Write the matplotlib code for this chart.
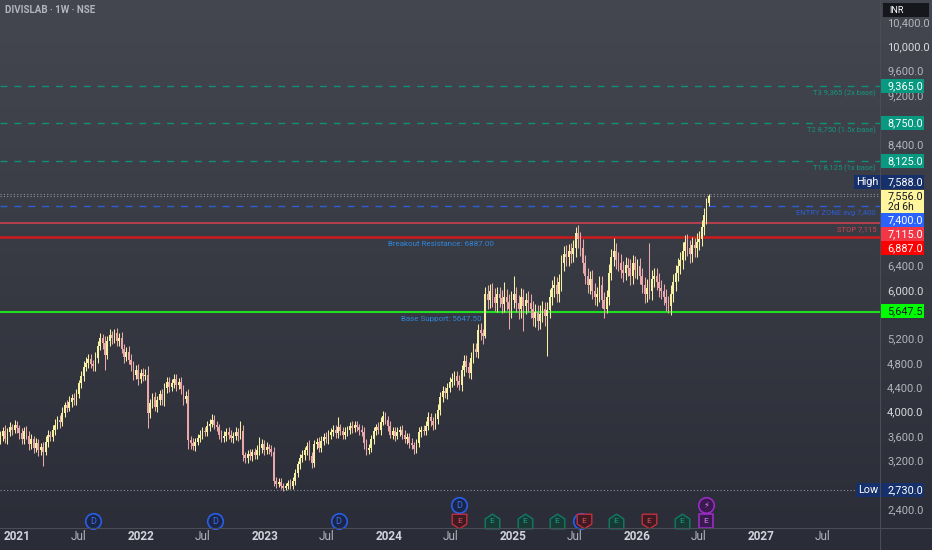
import numpy as np
import pandas as pd
import matplotlib
matplotlib.use("Agg")
import matplotlib.pyplot as plt
import matplotlib.dates as mdates
import matplotlib.transforms as mtransforms
from matplotlib.colors import LinearSegmentedColormap
from matplotlib.patches import Rectangle
from matplotlib.lines import Line2D

plt.rcParams['font.family'] = ['Roboto', 'DejaVu Sans']

# ---- weekly candles (DIVISLAB 1W) ----
first_open = 3550
closes = [
    3620, 3700, 3560, 3680, 3760, 3720, 3800, 3740, 3660, 3560,
    3700, 3620, 3480, 3560, 3420, 3500, 3380, 3440, 3360, 3520,
    3640, 3600, 3720, 3800, 3880, 3840, 4000, 4120, 4080, 4180,
    4240, 4200, 4300, 4480, 4600, 4750, 4820, 4880, 4800, 4760,
    4900, 5100, 5220, 5150, 4950, 5180, 5280, 5220, 5300, 5180,
    5220, 5050, 4920, 5000, 4860, 4780, 4620, 4700, 4550, 4650,
    4600, 4620, 4000, 4150, 4250, 4100, 4200, 4300, 4200, 4400,
    4500, 4420, 4480, 4550, 4450, 4500, 4380, 4220, 4280, 3550,
    3500, 3450, 3520, 3580, 3640, 3700, 3680, 3780, 3820, 3880,
    3800, 3760, 3640, 3580, 3620, 3680, 3640, 3580, 3620, 3680,
    3620, 3700, 3300, 3250, 3320, 3280, 3350, 3300, 3380, 3420,
    3480, 3380, 3430, 3400, 3350, 2880, 2820, 2860, 2800, 2760,
    2790, 2840, 2800, 2880, 3000, 3150, 3250, 3300, 3380, 3450,
    3280, 3180, 3480, 3520, 3420, 3540, 3600, 3560, 3640, 3680,
    3720, 3660, 3760, 3700, 3640, 3680, 3720, 3780, 3740, 3800,
    3760, 3720, 3680, 3500, 3380, 3420, 3560, 3700, 3760, 3720,
    3850, 3950, 3880, 3780, 3640, 3700, 3620, 3680, 3720, 3640,
    3560, 3600, 3500, 3460, 3400, 3500, 3680, 3720, 3700, 3780,
    3920, 3860, 3800, 3900, 4050, 4250, 4350, 4320, 4400, 4500,
    4550, 4600, 4520, 4450, 4700, 4850, 4750, 4650, 4900, 5050,
    5000, 5350, 5300, 5250, 5950, 5850, 6000, 5900, 5800, 5950,
    5880, 5780, 5900, 5820, 5700, 5850, 5950, 5800, 5700, 5900,
    5750, 5850, 5800, 5700, 5550, 5650, 5500, 5620, 5700, 5580,
    5680, 5900, 6050, 6100, 5950, 6150, 6450, 6600, 6550, 6650,
    6600, 6700, 6950, 6850, 6700, 6450, 6250, 6100, 6200, 6000,
    5900, 5950, 6100, 5850, 5700, 5900, 6300, 6550, 6650, 6500,
    6450, 6350, 6300, 6420, 6380, 6250, 6450, 6350, 6400, 6250,
    6100, 5950, 6050, 6000, 6200, 6250, 6150, 6050, 6000, 5900,
    5800, 5750, 5950, 6150, 6300, 6400, 6500, 6650, 6800, 6700,
    6600, 6750, 6700, 6800, 6850, 7050, 7250, 7450, 7556,
]
# wick length above / below the body
wick_up = [
    80, 60, 100, 70, 90, 60, 80, 70, 60, 90,
    60, 80, 70, 90, 60, 80, 70, 60, 80, 90,
    70, 60, 80, 90, 70, 80, 90, 60, 80, 90,
    70, 80, 90, 60, 80, 90, 100, 80, 90, 70,
    100, 80, 90, 70, 110, 80, 90, 60, 70, 90,
    80, 100, 70, 80, 90, 100, 70, 80, 90, 70,
    80, 90, 150, 80, 70, 90, 80, 70, 90, 80,
    90, 80, 70, 90, 80, 70, 90, 80, 70, 100,
    70, 80, 60, 70, 80, 60, 70, 80, 70, 90,
    80, 70, 60, 80, 70, 60, 80, 70, 60, 80,
    70, 160, 90, 60, 70, 80, 60, 70, 80, 180,
    90, 70, 80, 60, 70, 80, 60, 70, 60, 50,
    60, 50, 70, 60, 80, 60, 70, 80, 60, 70,
    100, 80, 70, 60, 80, 70, 60, 80, 70, 60,
    70, 80, 160, 60, 70, 80, 60, 70, 80, 60,
    70, 60, 80, 90, 70, 60, 80, 70, 60, 80,
    70, 80, 60, 70, 80, 60, 70, 80, 60, 70,
    80, 60, 70, 80, 60, 70, 80, 60, 70, 80,
    90, 80, 70, 100, 90, 80, 90, 70, 80, 90,
    100, 80, 90, 100, 80, 90, 100, 80, 90, 100,
    90, 100, 120, 80, 120, 150, 120, 130, 140, 110,
    120, 140, 240, 130, 120, 140, 290, 120, 130, 150,
    130, 120, 140, 150, 130, 140, 120, 150, 130, 120,
    140, 130, 120, 150, 130, 120, 140, 130, 150, 120,
    130, 140, 100, 130, 120, 150, 140, 130, 120, 140,
    130, 120, 150, 140, 130, 120, 140, 130, 210, 140,
    130, 150, 140, 130, 120, 150, 140, 130, 120, 140,
    130, 120, 140, 730, 150, 130, 120, 140, 130, 120,
    130, 120, 140, 130, 120, 140, 130, 150, 120, 130,
    140, 130, 120, 150, 130, 120, 110, 80, 32,
]
wick_dn = [
    70, 90, 60, 80, 70, 90, 60, 80, 100, 70,
    80, 60, 90, 70, 80, 60, 90, 70, 240, 60,
    80, 70, 60, 80, 70, 90, 60, 80, 70, 60,
    90, 70, 80, 60, 70, 80, 60, 90, 70, 80,
    70, 90, 80, 100, 250, 70, 80, 90, 70, 80,
    90, 70, 100, 80, 70, 90, 80, 70, 100, 60,
    80, 70, 260, 90, 80, 70, 90, 80, 70, 90,
    80, 90, 70, 80, 90, 70, 80, 90, 70, 150,
    90, 70, 80, 60, 70, 80, 60, 70, 80, 60,
    70, 60, 80, 70, 60, 80, 70, 60, 80, 70,
    80, 60, 90, 80, 70, 60, 80, 70, 60, 70,
    80, 70, 60, 80, 70, 90, 60, 50, 60, 40,
    30, 50, 60, 50, 70, 60, 70, 60, 80, 70,
    60, 90, 70, 80, 60, 70, 80, 60, 70, 80,
    60, 70, 80, 60, 70, 80, 60, 70, 80, 60,
    70, 80, 60, 90, 80, 60, 70, 80, 60, 70,
    80, 60, 70, 80, 60, 70, 80, 60, 70, 80,
    60, 70, 80, 60, 80, 70, 60, 80, 70, 60,
    70, 80, 90, 70, 80, 90, 70, 80, 90, 70,
    80, 90, 100, 80, 90, 100, 80, 90, 100, 80,
    90, 100, 110, 120, 30, 150, 140, 160, 130, 150,
    140, 150, 130, 140, 330, 150, 130, 140, 160, 150,
    410, 130, 140, 150, 130, 140, 150, 130, 140, 150,
    650, 130, 140, 150, 130, 140, 150, 130, 140, 150,
    140, 130, 150, 140, 130, 150, 140, 130, 150, 140,
    130, 150, 140, 130, 150, 70, 140, 130, 150, 140,
    130, 140, 150, 130, 140, 150, 130, 140, 150, 130,
    140, 150, 130, 140, 150, 130, 140, 150, 130, 140,
    130, 120, 140, 130, 150, 140, 130, 140, 150, 130,
    140, 130, 150, 140, 130, 120, 140, 150, 60,
]

# ---- levels drawn on the chart ----
target_levels = [9365, 8750, 8125]
target_labels = ["T3 9,365 (2x base)", "T2 8,750 (1.5x base)", "T1 8,125 (1x base)"]
entry_level = 7400
stop_level = 7115
resistance_level = 6887
support_level = 5647.5
high_level = 7588
low_level = 2730
last_price = 7556
countdown = "2d 6h"

# ---- events under the candles ----
div_dates = ['2021-08-13', '2022-08-07', '2023-08-06', '2025-07-19']
div_upper_dates = ['2024-07-26']
earn_dates = ['2024-07-26', '2024-10-30', '2025-02-04', '2025-05-09', '2025-07-28',
              '2025-10-30', '2026-02-04', '2026-05-12']
earn_beat = [False, True, True, True, False, True, False, True]
next_earn_date = '2026-07-22'

# ---- colours ----
UP = '#f6f0a2'
DOWN = '#eaa8aa'
TEAL = '#118f79'
TXT = '#b2b5be'

ymin, ymax = 2104, 10778
W, H = 932, 550
AX_H = 528
ppx = (ymax - ymin) / AX_H   # price per pixel

fig = plt.figure(figsize=(W / 100, H / 100), dpi=100)

bg = fig.add_axes([0, 0, 1, 1], zorder=0)
cmap = LinearSegmentedColormap.from_list('bg', ['#44474f', '#2a2d37'])
bg.imshow(np.linspace(0, 1, 256).reshape(-1, 1), cmap=cmap, aspect='auto', extent=(0, 1, 0, 1))
bg.set_axis_off()

ax = fig.add_axes([0, (H - AX_H) / H, 880 / W, AX_H / H], zorder=1)
ax.patch.set_alpha(0)
for s in ax.spines.values():
    s.set_visible(False)
ax.set_xticks([])
ax.set_yticks([])
ax.set_ylim(ymin, ymax)
ax.set_xlim(mdates.date2num(pd.Timestamp('2020-11-12')), mdates.date2num(pd.Timestamp('2027-12-17')))

# candles
dates = pd.date_range('2020-11-13', periods=len(closes), freq='7D')
x = mdates.date2num(dates)
c = np.array(closes, dtype=float)
o = np.concatenate([[first_open], c[:-1]])
hi = np.maximum(o, c) + np.array(wick_up)
lo = np.minimum(o, c) - np.array(wick_dn)
cols = np.where(c >= o, UP, DOWN)
ax.vlines(x, lo, hi, colors=cols, lw=0.75, zorder=3)
ax.bar(x, np.maximum(np.abs(c - o), 10), bottom=np.minimum(o, c), width=5.2,
       color=cols, linewidth=0, zorder=3)

# horizontal levels
dash = (0, (5, 5))
for lvl, lab in zip(target_levels, target_labels):
    ax.axhline(lvl, color=TEAL, lw=1, ls=dash, zorder=2)
    ax.annotate(lab, xy=(0.9955, lvl), xycoords=('axes fraction', 'data'),
                xytext=(0, -5), textcoords='offset points', ha='right', va='center',
                fontsize=5.5, color='#15957f')
ax.axhline(entry_level, color='#2d5ed6', lw=1, ls=dash, zorder=2)
ax.annotate(f"ENTRY ZONE avg {entry_level:,}", xy=(0.9955, entry_level),
            xycoords=('axes fraction', 'data'), xytext=(0, -5), textcoords='offset points',
            ha='right', va='center', fontsize=5.5, color='#2d5ed6')
ax.axhline(stop_level, color='#c8414e', lw=1.2, zorder=2)
ax.annotate(f"STOP {stop_level:,}", xy=(0.9955, stop_level),
            xycoords=('axes fraction', 'data'), xytext=(0, -4.5), textcoords='offset points',
            ha='right', va='center', fontsize=5.5, color='#d2414f')
ax.axhline(resistance_level, color='#cf1b1b', lw=1.8, zorder=2)
ax.annotate(f"Breakout Resistance: {resistance_level:.2f}", xy=(440.5 / 880, resistance_level),
            xycoords=('axes fraction', 'data'), xytext=(0, -5.3), textcoords='offset points',
            ha='center', va='center', fontsize=5.8, color='#2f86dc')
ax.axhline(support_level, color='#1fe01f', lw=1.5, zorder=2)
ax.annotate(f"Base Support: {support_level:.2f}", xy=(441.5 / 880, support_level),
            xycoords=('axes fraction', 'data'), xytext=(0, -4.8), textcoords='offset points',
            ha='center', va='center', fontsize=5.8, color='#2f86dc', zorder=4)
for lvl in (high_level, last_price, low_level):
    ax.axhline(lvl, color='#8d9099', lw=0.8, ls=(0, (1, 2)), zorder=2)

# time axis labels
trans = mtransforms.blended_transform_factory(ax.transData, ax.transAxes)
for yr in range(2021, 2028):
    ax.text(mdates.date2num(pd.Timestamp(f'{yr}-01-01')), -9 / AX_H, str(yr), transform=trans,
            ha='center', va='center', fontsize=8.5, fontweight='bold', color='#d1d4dc', clip_on=False)
    ax.text(mdates.date2num(pd.Timestamp(f'{yr}-07-01')), -9 / AX_H, 'Jul', transform=trans,
            ha='center', va='center', fontsize=8.5, color=TXT, clip_on=False)

# event markers
row_lo, row_hi = 7 / AX_H, 23 / AX_H
shield = [(-1, 1), (1, 1), (1, -0.35), (0, -1), (-1, -0.35), (-1, 1)]
house = [(-1, -1), (1, -1), (1, 0.35), (0, 1), (-1, 0.35), (-1, -1)]
DIV_S = 125
earn_nums = [mdates.date2num(pd.Timestamp(d)) for d in earn_dates]


def div_marker(d, row):
    xd = mdates.date2num(pd.Timestamp(d))
    ax.scatter([xd], [row], s=DIV_S, marker='o', facecolor='#1b2546', edgecolor='#2a5ee8',
               lw=1.2, transform=trans, clip_on=False, zorder=5)
    # letter is hidden when an earnings flag sits on top of the circle
    if row == row_lo and min(abs(xd - e) for e in earn_nums) < 14:
        return
    ax.text(xd, row, 'D', transform=trans, ha='center', va='center', fontsize=6.5,
            color='#3d6ff0', clip_on=False, zorder=6)


for d in div_dates:
    div_marker(d, row_lo)
for d in div_upper_dates:
    div_marker(d, row_hi)
for xd, beat in zip(earn_nums, earn_beat):
    if beat:
        fc, ec, tc, mk = '#173a34', '#127a66', '#1aa088', house
    else:
        fc, ec, tc, mk = '#3e1a22', '#c2303f', '#e0505e', shield
    ax.scatter([xd], [row_lo], s=110, marker=mk, facecolor=fc, edgecolor=ec, lw=1,
               transform=trans, clip_on=False, zorder=7)
    ax.text(xd, row_lo, 'E', transform=trans, ha='center', va='center', fontsize=6,
            color=tc, clip_on=False, zorder=8)
xn = mdates.date2num(pd.Timestamp(next_earn_date))
ax.scatter([xn], [row_lo], s=115, marker='s', facecolor='#3a1850', edgecolor='#a02ccc', lw=1.1,
           transform=trans, clip_on=False, zorder=7)
ax.text(xn, row_lo, 'E', transform=trans, ha='center', va='center', fontsize=6,
        color='#d08ae8', clip_on=False, zorder=8)
ax.scatter([xn], [row_hi], s=DIV_S, marker='o', facecolor='#3a1850', edgecolor='#a02ccc', lw=1.1,
           transform=trans, clip_on=False, zorder=7)
ax.text(xn, row_hi, '\u26a1', transform=trans, ha='center', va='center', fontsize=6,
        color='#d08ae8', clip_on=False, zorder=8)

# price scale
pax = fig.add_axes([880 / W, (H - AX_H) / H, 52 / W, AX_H / H], zorder=2)
pax.set_xlim(0, 52)
pax.set_ylim(ymin, ymax)
pax.set_axis_off()

# label boxes on the scale: (price, pixel shift down, face, text colour)
boxes = [(lvl, 0, '#089981', 'white') for lvl in target_levels]
boxes += [(high_level, -12, '#15306a', 'white'),
          (entry_level, 14.4, '#2962ff', 'white'),
          (stop_level, 11.3, '#f23645', 'white'),
          (resistance_level, 11.2, '#ff0000', 'white'),
          (support_level, -1, '#00ff00', '#131722'),
          (low_level, 0, '#15306a', 'white')]
box_centres = [p - dy * ppx for p, dy, _, _ in boxes] + [last_price - 5.4 * ppx]

for v in range(2400, 10401, 400):
    # ticks sitting under a label box are hidden, as on the original scale
    if min(abs(v - bc) for bc in box_centres) < 9 * ppx:
        continue
    if abs(v - (last_price - 5.4 * ppx)) < 13 * ppx:
        continue
    col = '#d8dae0' if v in (4000, 6000, 10000) else TXT
    pax.text(7, v, f"{v:,.1f}", ha='left', va='center', fontsize=8, color=col, zorder=1)


def price_box(price, dy, text, face, tcol, x0=1, x1=44, h=14):
    yc = price - dy * ppx
    pax.add_patch(Rectangle((x0, yc - h / 2 * ppx), x1 - x0, h * ppx, facecolor=face,
                            edgecolor='none', zorder=5, clip_on=False))
    pax.text(x0 + 6.5, yc, text, ha='left', va='center', fontsize=7.8, color=tcol,
             zorder=6, clip_on=False)


for p, dy, face, tcol in boxes:
    price_box(p, dy, f"{p:,.1f}", face, tcol)

# High / Low tags left of the scale
for p, dy, tag, w in ((high_level, -12, 'High', 26), (low_level, 0, 'Low', 24)):
    yc = p - dy * ppx
    pax.add_patch(Rectangle((-w, yc - 7 * ppx), w, 14 * ppx, facecolor='#15306a',
                            edgecolor='none', zorder=5, clip_on=False))
    pax.text(-w / 2, yc, tag, ha='center', va='center', fontsize=7.8,
             color='white', zorder=6, clip_on=False)

# last price + countdown
yc = last_price - 5.4 * ppx
pax.add_patch(Rectangle((1, yc - 11.5 * ppx), 43, 23 * ppx, facecolor='#fff59d',
                        edgecolor='none', zorder=5, clip_on=False))
pax.text(7.5, last_price + 0.3 * ppx, f"{last_price:,.1f}", ha='left', va='center', fontsize=7.8,
         color='#131722', zorder=6)
pax.text(7.5, last_price - 11.2 * ppx, countdown, ha='left', va='center', fontsize=7.5,
         color='#131722', zorder=6)

# currency tag
pax.add_patch(Rectangle((3, ymax - 17 * ppx), 46, 14 * ppx, facecolor='#15171d',
                        edgecolor='none', zorder=5, clip_on=False))
pax.text(9, ymax - 10 * ppx, 'INR', ha='left', va='center', fontsize=6.5, color='white', zorder=6)

# separators + title
fig.add_artist(Line2D([880 / W, 880 / W], [0, 1], transform=fig.transFigure, color='#4a4d57', lw=0.8))
fig.add_artist(Line2D([0, 1], [(H - AX_H) / H] * 2, transform=fig.transFigure, color='#4a4d57', lw=0.8))
fig.text(5 / W, 1 - 10 / H, "DIVISLAB \u00b7 1W \u00b7 NSE", fontsize=7, color=TXT,
         fontweight='bold', va='center', ha='left')

fig.savefig('out.png', dpi=100)
